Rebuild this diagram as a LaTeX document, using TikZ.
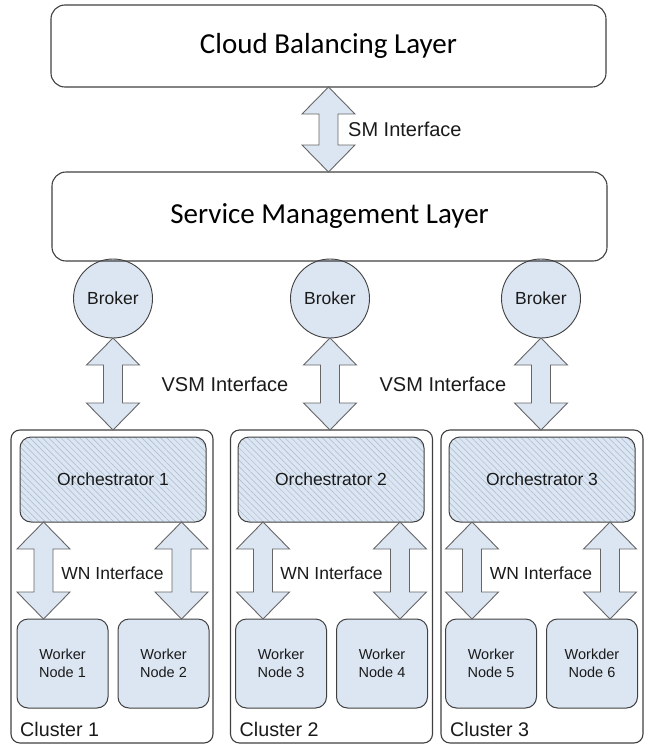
\documentclass[tikz,border=0pt]{standalone}
\usepackage{fontspec}
\setmainfont{Liberation Sans}
\newfontfamily\calibfont{Carlito}
\usetikzlibrary{calc,patterns.meta}
\definecolor{lblue}{HTML}{DCE6F2}
\definecolor{hatch}{HTML}{A8B8CE}
\definecolor{edge}{HTML}{404040}
\definecolor{aedge}{HTML}{666666}
\definecolor{txt}{HTML}{1A1A1A}
\tikzset{
 layer/.style={draw=edge, line width=1.1pt, rounded corners=14pt, minimum width=555pt, inner sep=0pt, outer sep=0pt, font=\calibfont\fontsize{29}{34}\selectfont, text=black},
 broker/.style={circle, draw=edge, line width=0.9pt, fill=lblue, minimum size=79pt, inner sep=0pt, outer sep=0pt, font=\fontsize{17.5}{21}\selectfont, text=txt},
 cluster/.style={draw=edge, line width=1.1pt, rounded corners=9pt, minimum width=202pt, minimum height=313pt, inner sep=0pt, outer sep=0pt},
 orch/.style={draw=edge, line width=1pt, rounded corners=11pt, minimum width=186pt, minimum height=85pt, inner sep=0pt, outer sep=0pt, preaction={fill=lblue}, pattern={Lines[angle=-45,distance=4.4pt,line width=0.5pt]}, pattern color=hatch, font=\fontsize{17.5}{21}\selectfont, text=txt},
 worker/.style={draw=edge, line width=1pt, rounded corners=11pt, minimum width=91pt, minimum height=89pt, inner sep=0pt, outer sep=0pt, fill=lblue, align=center, font=\fontsize{14.5}{18}\selectfont, text=txt},
 lab/.style={font=\fontsize{17.5}{21}\selectfont, text=txt, inner sep=0pt},
 biglab/.style={font=\fontsize{20}{24}\selectfont, text=txt, inner sep=0pt},
 clab/.style={font=\fontsize{19.7}{24}\selectfont, text=txt, inner sep=0pt},
 arrowbody/.style={draw=aedge, fill=lblue, line width=0.9pt, line join=miter},
}
\newcommand\dblarr[2]{%
  \path[arrowbody] let \p1=(#1), \p2=(#2) in
   (\x1,\y1) -- (\x1+26.5pt,\y1-27pt) -- (\x1+9.5pt,\y1-27pt) -- (\x1+9.5pt,\y2+27pt)
   -- (\x1+26.5pt,\y2+27pt) -- (\x1,\y2) -- (\x1-26.5pt,\y2+27pt) -- (\x1-9.5pt,\y2+27pt)
   -- (\x1-9.5pt,\y1-27pt) -- (\x1-26.5pt,\y1-27pt) -- cycle;}
\begin{document}
\begin{tikzpicture}[x=1pt,y=1pt]
\useasboundingbox (0,0) rectangle (646,-744);
% brokers (under the layer line)
\node[broker] (b1) at (113,-298.5) {Broker};
\node[broker] (b2) at (330,-298.5) {Broker};
\node[broker] (b3) at (541,-298.5) {Broker};
% layers
\node[layer, minimum height=82pt] (cbl) at (328.5,-46) {Cloud Balancing Layer};
\node[layer, minimum height=89pt] (sml) at (329.5,-216.5) {Service Management Layer};
% clusters
\node[cluster] (cl1) at (112,-586.5) {};
\node[cluster] (cl2) at (331.5,-586.5) {};
\node[cluster] (cl3) at (542,-586.5) {};
% orchestrators
\node[orch] (o1) at (113,-479.5) {Orchestrator 1};
\node[orch] (o2) at (331,-479.5) {Orchestrator 2};
\node[orch] (o3) at (542,-479.5) {Orchestrator 3};
% workers
\node[worker] (w1) at (62.5,-663.5) {Worker\\Node 1};
\node[worker] (w2) at (163.5,-663.5) {Worker\\Node 2};
\node[worker] (w3) at (281,-663.5) {Worker\\Node 3};
\node[worker] (w4) at (382,-663.5) {Worker\\Node 4};
\node[worker] (w5) at (491,-663.5) {Worker\\Node 5};
\node[worker] (w6) at (592,-663.5) {Workder\\Node 6};
% cluster labels
\node[clab, anchor=base west] (cl1lab) at ([shift={(9pt,7pt)}]cl1.south west) {Cluster 1};
\node[clab, anchor=base west] (cl2lab) at ([shift={(9pt,7pt)}]cl2.south west) {Cluster 2};
\node[clab, anchor=base west] (cl3lab) at ([shift={(9pt,7pt)}]cl3.south west) {Cluster 3};
% arrow start points on orchestrators
\coordinate (t11) at ([xshift=23.5pt]o1.south west);
\coordinate (t12) at ([xshift=-24.5pt]o1.south east);
\coordinate (t21) at ([xshift=25pt]o2.south west);
\coordinate (t22) at ([xshift=-24pt]o2.south east);
\coordinate (t31) at ([xshift=23pt]o3.south west);
\coordinate (t32) at ([xshift=-25pt]o3.south east);
% arrows
\dblarr{cbl.south}{sml.north}
\dblarr{b1.south}{cl1.north}
\dblarr{b2.south}{cl2.north}
\dblarr{b3.south}{cl3.north}
\dblarr{t11}{w1.north}
\dblarr{t12}{w2.north}
\dblarr{t21}{w3.north}
\dblarr{t22}{w4.north}
\dblarr{t31}{w5.north}
\dblarr{t32}{w6.north}
% interface labels
\node[biglab, anchor=west] (smlab) at (348,-129) {SM Interface};
\node[biglab] (vsm1) at (225,-384) {VSM Interface};
\node[biglab] (vsm2) at (443,-384) {VSM Interface};
\node[lab] (wn1) at (112.5,-573) {WN Interface};
\node[lab] (wn2) at (331.5,-573) {WN Interface};
\node[lab] (wn3) at (541,-573) {WN Interface};
\end{tikzpicture}
\end{document}
